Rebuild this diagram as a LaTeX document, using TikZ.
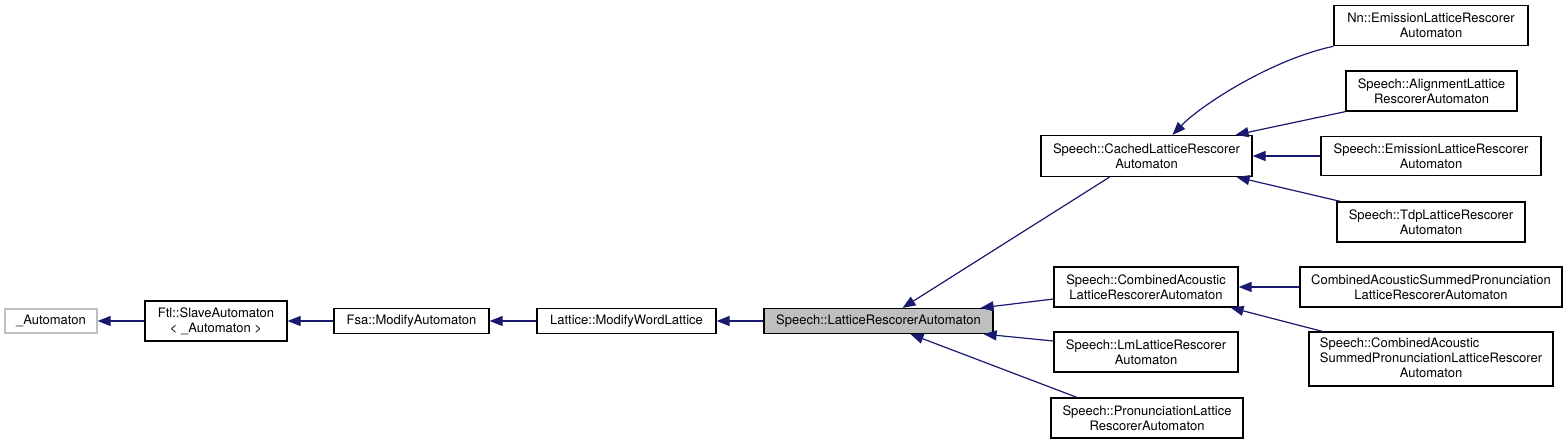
\documentclass[tikz,border=0pt]{standalone}
\usepackage{fontspec}
\setmainfont{TeX Gyre Heros}
\usetikzlibrary{arrows.meta,calc}
\definecolor{edgeblue}{HTML}{191970}
\definecolor{boxgray}{HTML}{BFBFBF}

\begin{document}
\begin{tikzpicture}[x=1pt,y=-1pt,
    cls/.style={draw=black,line width=1.2pt,fill=white,inner sep=0pt,align=center,font=\fontsize{13}{15}\selectfont},
    inh/.style={draw=edgeblue,line width=1.2pt,{Triangle[length=13pt,width=10pt]}-}]
				\useasboundingbox (0,0) rectangle (1568,444);
				% classes
				\node[cls,draw=boxgray,minimum width=92,minimum height=24] (automaton) at (51,321) {\_Automaton};
				\node[cls,minimum width=142,minimum height=40] (slave) at (216,321) {Ftl::SlaveAutomaton\\< \_Automaton >};
				\node[cls,minimum width=155,minimum height=25] (modauto) at (411.5,321) {Fsa::ModifyAutomaton};
				\node[cls,minimum width=179,minimum height=25] (wordlat) at (626.5,321) {Lattice::ModifyWordLattice};
				\node[cls,fill=boxgray,minimum width=229,minimum height=25] (rescorer) at (878.5,321) {Speech::LatticeRescorerAutomaton};
				\node[cls,minimum width=211,minimum height=41] (cached) at (1146.5,156) {Speech::CachedLatticeRescorer\\Automaton};
				\node[cls,minimum width=194,minimum height=40] (nnemis) at (1431,25.7) {Nn::EmissionLatticeRescorer\\Automaton};
				\node[cls,minimum width=171,minimum height=40] (align) at (1431.5,91) {Speech::AlignmentLattice\\RescorerAutomaton};
				\node[cls,minimum width=220,minimum height=39] (emis) at (1431,156) {Speech::EmissionLatticeRescorer\\Automaton};
				\node[cls,minimum width=188,minimum height=40] (tdp) at (1431,222) {Speech::TdpLatticeRescorer\\Automaton};
				\node[cls,minimum width=184,minimum height=40] (comb) at (1146,287) {Speech::CombinedAcoustic\\LatticeRescorerAutomaton};
				\node[cls,minimum width=262,minimum height=40] (combsum) at (1431,287) {CombinedAcousticSummedPronunciation\\LatticeRescorerAutomaton};
				\node[cls,minimum width=184,minimum height=40] (lm) at (1146,352) {Speech::LmLatticeRescorer\\Automaton};
				\node[cls,minimum width=244,minimum height=54] (speechsum) at (1431,359) {\begin{tabular}{@{}l@{}}Speech::CombinedAcoustic\\SummedPronunciationLatticeRescorer\\\multicolumn{1}{@{}c@{}}{Automaton}\end{tabular}};
				\node[cls,minimum width=192,minimum height=40] (pron) at (1147,418) {Speech::PronunciationLattice\\RescorerAutomaton};
				% inheritance
				\draw[inh] (automaton.east) -- (slave.west);
				\draw[inh] (slave.east) -- (modauto.west);
				\draw[inh] (modauto.east) -- (wordlat.west);
				\draw[inh] (wordlat.east) -- (rescorer.west);
				\draw[inh] ($(rescorer.north)+(24,0)$) -- ($(cached.south)+(-37,0)$);
				\draw[inh] ($(rescorer.north east)+(-13,0)$) -- ($(comb.west)+(0,12)$);
				\draw[inh] ($(rescorer.south east)+(-10,0)$) -- ($(lm.west)+(0,-11)$);
				\draw[inh] ($(rescorer.south)+(32,0)$) -- ($(pron.north)+(-70,0)$);
				\draw[inh] ($(cached.north)+(26,0)$) .. controls (1200,106) and (1270,60) .. (nnemis.south west);
				\draw[inh] ($(cached.north east)+(-17,0)$) -- (align.south west);
				\draw[inh] (cached.east) -- (emis.west);
				\draw[inh] ($(cached.south east)+(-16,0)$) -- ($(tdp.north west)+(4,0)$);
				\draw[inh] (comb.east) -- (combsum.west);
				\draw[inh] ($(comb.south east)+(-8,0)$) -- ($(speechsum.north west)+(14,0)$);
			\end{tikzpicture}
\end{document}
